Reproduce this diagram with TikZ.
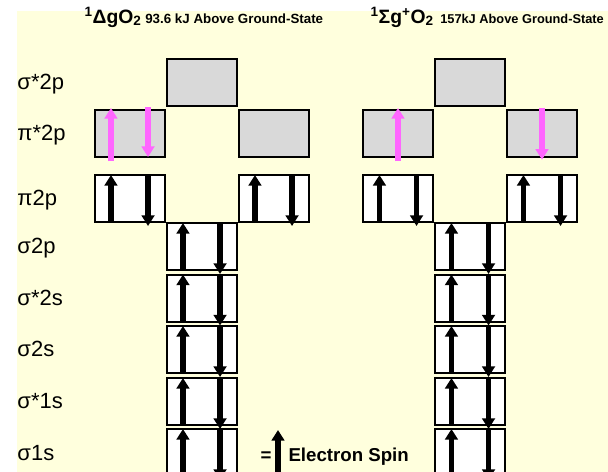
\documentclass[tikz,border=0pt]{standalone}
\usepackage{fontspec}
\setmainfont{Liberation Sans}
\usetikzlibrary{arrows.meta}

\definecolor{paper}{RGB}{255,255,221}
\definecolor{orbgrey}{RGB}{217,217,217}
\definecolor{spinpink}{RGB}{255,102,255}

\tikzset{every picture/.style={line width=0.75pt}}
\tikzset{
  orbfull/.style={draw=black, line width=1.5pt, fill=white, minimum width=52.5pt, minimum height=35.25pt, inner sep=0pt, outer sep=0pt},
  orbempty/.style={orbfull, fill=orbgrey},
  spinblk/.style={line width=4.4pt, -{Triangle[length=8pt,width=9.5pt]}},
  spinmag/.style={spinblk, color=spinpink},
  lvl/.style={anchor=base west, inner sep=0pt, font=\fontsize{16.5}{18}\selectfont},
}

\begin{document}
\begin{tikzpicture}[x=0.75pt,y=0.75pt,yscale=-1,xscale=1]
\clip (0,0) rectangle (608,472);
%set diagram left start at 0, and has height of 472

%Shape: Rectangle (paper)
\fill [paper] (17,11) rectangle (608,472);

% Text Node
\node [anchor=base west, inner sep=0pt, font=\bfseries] (ttlDelta) at (84,23) {{\fontsize{14.5}{16}\selectfont\textsuperscript{1}ΔgO\textsubscript{2}} {\fontsize{10}{12}\selectfont 93.6 kJ Above Ground-State}};
% Text Node
\node [anchor=base west, inner sep=0pt, font=\bfseries] (ttlSigma) at (370,23) {{\fontsize{14.5}{16}\selectfont\textsuperscript{1}Σg\textsuperscript{+}O\textsubscript{2}}\hspace{2pt} {\fontsize{9.6}{12}\selectfont 157kJ Above Ground-State}};

% Text Node
\node [lvl] (lvSs2p) at (17,89) {σ*2p};
\node [lvl] (lvPis2p) at (17,140.5) {π*2p};
\node [lvl] (lvPi2p) at (17,205.5) {π2p};
\node [lvl] (lvS2p) at (17,253.5) {σ2p};
\node [lvl] (lvSs2s) at (17,305) {σ*2s};
\node [lvl] (lvS2s) at (17,356.5) {σ2s};
\node [lvl] (lvSs1s) at (17,408.5) {σ*1s};
\node [lvl] (lvS1s) at (17,460.5) {σ1s};

%Shape: Rectangle (delta state)
\node [orbempty] (dSs2p) at (201.5,82) {};
\node [orbempty] (dPis2pA) at (129.5,133.5) {};
\node [orbempty] (dPis2pB) at (273.5,133.5) {};
\node [orbfull] (dPi2pA) at (129.5,198.5) {};
\node [orbfull] (dPi2pB) at (273.5,198.5) {};
\node [orbfull] (dS2p) at (201.5,246.5) {};
\node [orbfull] (dSs2s) at (201.5,298) {};
\node [orbfull] (dS2s) at (201.5,349.5) {};
\node [orbfull] (dSs1s) at (201.5,401.5) {};
\node [orbfull] (dS1s) at (201.5,452.5) {};

%Shape: Rectangle (sigma state)
\node [orbempty] (sSs2p) at (470,82) {};
\node [orbempty] (sPis2pA) at (398,133.5) {};
\node [orbempty] (sPis2pB) at (542,133.5) {};
\node [orbfull] (sPi2pA) at (398,198.5) {};
\node [orbfull] (sPi2pB) at (542,198.5) {};
\node [orbfull] (sS2p) at (470,246.5) {};
\node [orbfull] (sSs2s) at (470,298) {};
\node [orbfull] (sS2s) at (470,349.5) {};
\node [orbfull] (sSs1s) at (470,401.5) {};
\node [orbfull] (sS1s) at (470,452.5) {};

%Straight Lines (pink spins)
\draw [spinmag] ([xshift=-13.9pt,yshift=3pt]dPis2pA.south) -- ([xshift=-13.9pt,yshift=-1.5pt]dPis2pA.north);
\draw [spinmag] ([xshift=13.9pt,yshift=-2pt]dPis2pA.north) -- ([xshift=13.9pt]dPis2pA.south);
\draw [spinmag] ([yshift=3pt]sPis2pA.south) -- ([yshift=-1.5pt]sPis2pA.north);
\draw [spinmag] ([yshift=-1.5pt]sPis2pB.north) -- ([yshift=2pt]sPis2pB.south);

%Straight Lines (paired spins, delta state)
\draw [spinblk] ([xshift=-13.9pt]dPi2pA.south) -- ([xshift=-13.9pt]dPi2pA.north);
\draw [spinblk] ([xshift=13.9pt]dPi2pA.north) -- ([xshift=13.9pt,yshift=3pt]dPi2pA.south);
\draw [spinblk] ([xshift=-13.9pt]dPi2pB.south) -- ([xshift=-13.9pt]dPi2pB.north);
\draw [spinblk] ([xshift=13.9pt]dPi2pB.north) -- ([xshift=13.9pt,yshift=3pt]dPi2pB.south);
\draw [spinblk] ([xshift=-13.9pt]dS2p.south) -- ([xshift=-13.9pt]dS2p.north);
\draw [spinblk] ([xshift=13.9pt]dS2p.north) -- ([xshift=13.9pt,yshift=3pt]dS2p.south);
\draw [spinblk] ([xshift=-13.9pt]dSs2s.south) -- ([xshift=-13.9pt]dSs2s.north);
\draw [spinblk] ([xshift=13.9pt]dSs2s.north) -- ([xshift=13.9pt,yshift=3pt]dSs2s.south);
\draw [spinblk] ([xshift=-13.9pt]dS2s.south) -- ([xshift=-13.9pt]dS2s.north);
\draw [spinblk] ([xshift=13.9pt]dS2s.north) -- ([xshift=13.9pt,yshift=3pt]dS2s.south);
\draw [spinblk] ([xshift=-13.9pt]dSs1s.south) -- ([xshift=-13.9pt]dSs1s.north);
\draw [spinblk] ([xshift=13.9pt]dSs1s.north) -- ([xshift=13.9pt,yshift=3pt]dSs1s.south);
\draw [spinblk] ([xshift=-13.9pt]dS1s.south) -- ([xshift=-13.9pt]dS1s.north);
\draw [spinblk] ([xshift=13.9pt]dS1s.north) -- ([xshift=13.9pt,yshift=3pt]dS1s.south);

%Straight Lines (paired spins, sigma state)
\draw [spinblk] ([xshift=-13.9pt]sPi2pA.south) -- ([xshift=-13.9pt]sPi2pA.north);
\draw [spinblk] ([xshift=13.9pt]sPi2pA.north) -- ([xshift=13.9pt,yshift=3pt]sPi2pA.south);
\draw [spinblk] ([xshift=-13.9pt]sPi2pB.south) -- ([xshift=-13.9pt]sPi2pB.north);
\draw [spinblk] ([xshift=13.9pt]sPi2pB.north) -- ([xshift=13.9pt,yshift=3pt]sPi2pB.south);
\draw [spinblk] ([xshift=-13.9pt]sS2p.south) -- ([xshift=-13.9pt]sS2p.north);
\draw [spinblk] ([xshift=13.9pt]sS2p.north) -- ([xshift=13.9pt,yshift=3pt]sS2p.south);
\draw [spinblk] ([xshift=-13.9pt]sSs2s.south) -- ([xshift=-13.9pt]sSs2s.north);
\draw [spinblk] ([xshift=13.9pt]sSs2s.north) -- ([xshift=13.9pt,yshift=3pt]sSs2s.south);
\draw [spinblk] ([xshift=-13.9pt]sS2s.south) -- ([xshift=-13.9pt]sS2s.north);
\draw [spinblk] ([xshift=13.9pt]sS2s.north) -- ([xshift=13.9pt,yshift=3pt]sS2s.south);
\draw [spinblk] ([xshift=-13.9pt]sSs1s.south) -- ([xshift=-13.9pt]sSs1s.north);
\draw [spinblk] ([xshift=13.9pt]sSs1s.north) -- ([xshift=13.9pt,yshift=3pt]sSs1s.south);
\draw [spinblk] ([xshift=-13.9pt]sS1s.south) -- ([xshift=-13.9pt]sS1s.north);
\draw [spinblk] ([xshift=13.9pt]sS1s.north) -- ([xshift=13.9pt,yshift=3pt]sS1s.south);

% Text Node (legend)
\node [anchor=base, inner sep=0pt, font=\bfseries\fontsize{14}{16}\selectfont] (keyEq) at (266,461) {=};
\coordinate (keyTail) at (278,474);
\coordinate (keyTip) at (278,430);
\draw [spinblk] (keyTail) -- (keyTip);
\node [anchor=base west, inner sep=0pt, font=\bfseries\fontsize{14}{16}\selectfont] (keyTxt) at (288,461) {Electron Spin};

\end{tikzpicture}
\end{document}
